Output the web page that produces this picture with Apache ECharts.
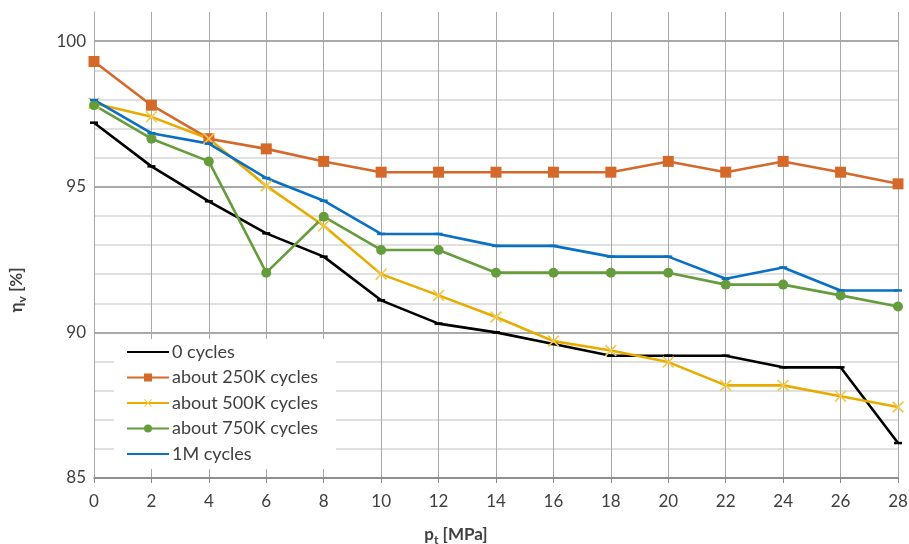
<!DOCTYPE html>
<html>
<head>
<meta charset="utf-8">
<script src="https://cdn.jsdelivr.net/npm/echarts@6/dist/echarts.min.js"></script>
<style>
html, body { margin: 0; padding: 0; background: #fff; }
#chart { width: 909px; height: 544px; }
</style>
</head>
<body>
<div id="chart"></div>
<script>
// pressure steps [MPa]
const pressures = [0, 2, 4, 6, 8, 10, 12, 14, 16, 18, 20, 22, 24, 26, 28]
const seriesNames = ['0 cycles', 'about 250K cycles', 'about 500K cycles', 'about 750K cycles', '1M cycles']
const cycles0 = [97.2, 95.7, 94.5, 93.4, 92.6, 91.1, 90.3, 90.0, 89.6, 89.2, 89.2, 89.2, 88.8, 88.8, 86.2]
const cycles250k = [99.3, 97.8, 96.65, 96.3, 95.87, 95.5, 95.5, 95.5, 95.5, 95.5, 95.87, 95.5, 95.87, 95.5, 95.1]
const cycles500k = [97.87, 97.4, 96.65, 95.03, 93.66, 92.0, 91.27, 90.53, 89.7, 89.38, 88.98, 88.18, 88.18, 87.81, 87.44]
const cycles750k = [97.8, 96.65, 95.87, 92.05, 93.97, 92.83, 92.83, 92.05, 92.05, 92.05, 92.05, 91.64, 91.64, 91.27, 90.89]
const cycles1m = [97.98, 96.84, 96.48, 95.3, 94.52, 93.38, 93.38, 92.97, 92.97, 92.6, 92.6, 91.84, 92.23, 91.44, 91.44]

const colors = ['#000000', '#d4692a', '#e8ac00', '#659c3c', '#0a70c2']
const crossPath = 'path://M0,1L1,0L5,4L9,0L10,1L6,5L10,9L9,10L5,6L1,10L0,9L4,5Z'

const pair = (vals) => pressures.map((p, i) => [p, vals[i]])

const chart = echarts.init(document.getElementById('chart'))

const lineSeries = (name, vals, color, symbol, size, symColor) => ({
  name,
  type: 'line',
  data: pair(vals),
  symbol,
  symbolSize: size,
  showSymbol: true,
  lineStyle: { color, width: 2.6 },
  itemStyle: { color: symColor || color },
  emphasis: { disabled: true },
  animation: false
})

const nameRich = {
  a: { fontSize: 17, fontWeight: 'bold', color: '#404040', lineHeight: 22 },
  s: { fontSize: 12, fontWeight: 'bold', color: '#404040', lineHeight: 14, verticalAlign: 'bottom' }
}

chart.setOption({
  textStyle: { fontFamily: 'Lato, "Liberation Sans", sans-serif' },
  grid: { left: 94, right: 11, top: 12, bottom: 66, outerBoundsMode: 'none' },
  xAxis: {
    type: 'value',
    min: 0,
    max: 28,
    interval: 2,
    name: '{a|p}{s|t}{a| [MPa]}',
    nameLocation: 'middle',
    nameGap: 46,
    nameTextStyle: { rich: nameRich, padding: [0, 80, 0, 0] },
    axisLine: { lineStyle: { color: '#868686', width: 1.5 } },
    axisTick: { show: true, length: 5, lineStyle: { color: '#868686' } },
    axisLabel: { fontSize: 17, color: '#404040', margin: 15 },
    splitLine: { show: true, lineStyle: { color: '#a8a8a8', width: 1 } }
  },
  yAxis: {
    type: 'value',
    min: 85,
    max: 101,
    interval: 1,
    name: '{a|η}{s|v}{a| [%]}',
    nameLocation: 'middle',
    nameGap: 66,
    nameTextStyle: { rich: nameRich, padding: [0, 90, 0, 0] },
    axisLine: { show: true, lineStyle: { color: '#a8a8a8', width: 1 } },
    axisTick: { show: false },
    axisLabel: {
      fontSize: 17,
      color: '#404040',
      margin: 8,
      formatter: (v) => (v % 5 === 0 ? String(v) : '')
    },
    splitLine: {
      show: true,
      showMaxLine: false,
      lineStyle: { color: ['#8c8c8c', '#d6d6d6', '#d6d6d6', '#d6d6d6', '#d6d6d6'], width: 1.6 }
    }
  },
  legend: {
    orient: 'vertical',
    left: 114,
    top: 339,
    padding: [4, 18, 6, 12],
    backgroundColor: '#ffffff',
    itemWidth: 42,
    itemHeight: 10,
    itemGap: 7.5,
    textStyle: { fontSize: 18, color: '#404040', padding: [0, 0, 0, -2] },
    data: seriesNames.map((name, i) =>
      (i === 0 || i === 4) ? { name, itemStyle: { opacity: 0 } } : { name })
  },
  series: [
    lineSeries(seriesNames[0], cycles0, colors[0], 'rect', [8, 2.5]),
    lineSeries(seriesNames[1], cycles250k, colors[1], 'rect', 11),
    lineSeries(seriesNames[2], cycles500k, colors[2], crossPath, 12, '#f2c84b'),
    lineSeries(seriesNames[3], cycles750k, colors[3], 'circle', 10),
    lineSeries(seriesNames[4], cycles1m, colors[4], 'rect', [8, 2.5])
  ]
})
</script>
</body>
</html>
